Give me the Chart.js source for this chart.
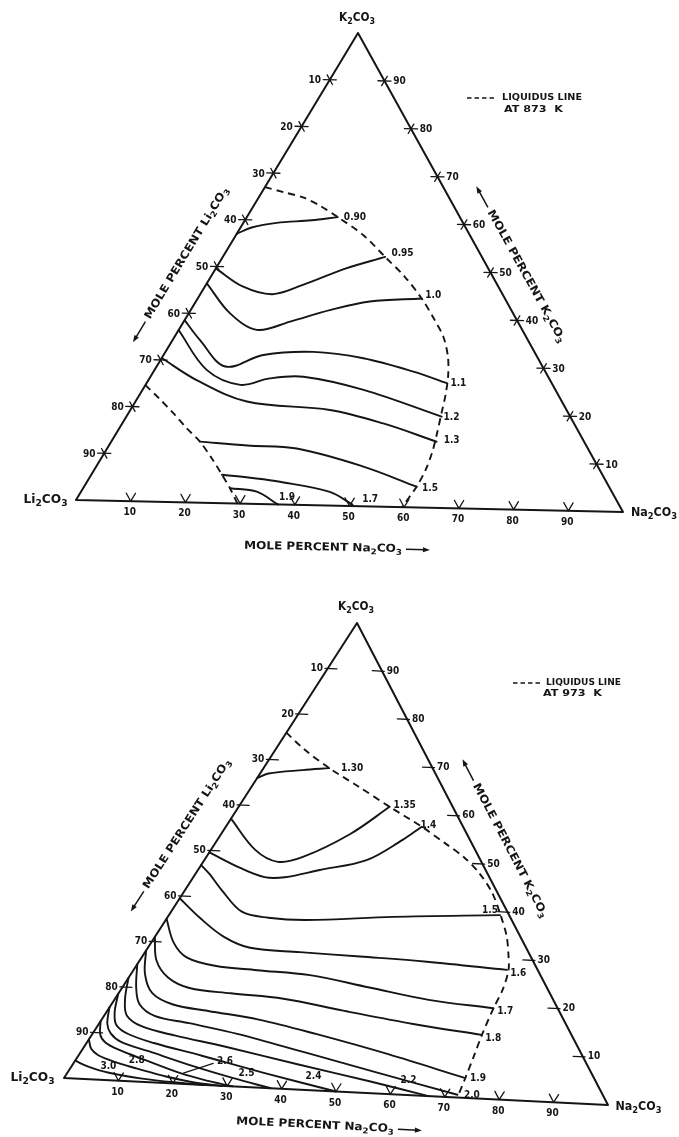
<!DOCTYPE html>
<html>
<head>
<meta charset="utf-8">
<title>Li2CO3-Na2CO3-K2CO3 ternary diagrams</title>
<script src="https://cdn.jsdelivr.net/npm/chart.js@4.4.1/dist/chart.umd.min.js"></script>
<style>
  html, body { margin: 0; padding: 0; background: #ffffff; }
  canvas { display: block; }
</style>
</head>
<body>
<canvas id="tern" width="679" height="1137"></canvas>
<script>
// ---------------------------------------------------------------------------
// Compositions are given as [mol % Na2CO3, mol % K2CO3]; Li2CO3 is the rest.
// ---------------------------------------------------------------------------
const TICK_STEPS = [10, 20, 30, 40, 50, 60, 70, 80, 90];

// ----- 873 K diagram -----
const liq873Main = [[0,67],[4,66],[8,65],[12,63.3],[16.4,61],[23,57.3],[29.3,52.8],[35,48.7],[40.4,44.2],[45,39.8],[48.5,36.2],[51.5,32],[53.6,28],[55.2,24],[56.5,20],[57.8,16],[59,12],[59.8,8],[60,4.4],[59.6,0]];
const liq873Low  = [[0,24.6],[4,21.8],[8.1,18.8],[12,15.8],[16,12.9],[20,9.4],[23.6,6],[26.5,3.2],[29.5,0]];

const values873 = ['0.90', '0.95', '1.0', '1.1', '1.2', '1.3', '1.5', '1.7', '1.9'];
const iso873_090 = [[0,57],[2,58.4],[6,59.5],[12,60.2],[16.4,61]];
const iso873_095 = [[0,49.6],[6.8,45.9],[13,44.4],[17.5,46.5],[23.5,50.2],[29.3,52.8]];
const iso873_100 = [[0,46.4],[7.4,40.2],[14.1,36.8],[19.2,38.7],[25.1,41.3],[31.4,43.3],[40.4,44.2]];
const iso873_110 = [[0,38.5],[4.9,34.4],[12.4,28.9],[18,31.5],[26.7,32.4],[36.4,31.3],[46.9,28.7],[54.2,26.4]];
const iso873_120 = [[0,36.4],[9.4,28.1],[17.1,25.1],[21.7,26.6],[27.6,27.1],[39.9,24.6],[56.9,19.3]];
const iso873_130 = [[0,30.4],[8.7,25.9],[20.1,21.6],[36,20.2],[47.1,17.6],[58.7,14]];
const iso873_150 = [[16,12.9],[25,12.3],[34.2,11.9],[48.2,8.4],[60,4.4]];
const iso873_170 = [[23.6,6],[29,5.5],[34.8,4.8],[44.9,2.9],[50.4,0.3]];
const iso873_190 = [[26.5,3.2],[31.7,2.6],[36.9,0]];
const labelAt873 = [[19.5,61.1],[32,53.7],[42.2,44.8],[56.3,26.4],[58.7,19.3],[61.3,14.3],[62.6,4.1],[53,1.5],[37.8,1.5]];

// ----- 973 K diagram -----
const liq973 = [[0,75.9],[5,72.6],[11.7,68.8],[19,65.2],[26.9,61.2],[34.9,57.3],[41,54],[46,51.2],[50.5,48],[55,44],[59,39.4],[62.5,35],[65,31],[66.8,27.7],[68,23.5],[68.5,19.4],[69.5,13.6],[70.5,9],[71.5,4.2],[72.3,0]];

const values973 = ['1.30', '1.35', '1.4', '1.5', '1.6', '1.7', '1.8', '1.9', '2.0', '2.2', '2.4', '2.5', '2.6', '2.8', '3.0'];
const iso973_130 = [[0,65.9],[1.5,67],[7.2,68.1],[11.7,68.8]];
const iso973_135 = [[0,57],[7.9,50.6],[13.3,48.3],[17.2,49.6],[23,55],[26.9,61.2]];
const iso973_140 = [[0,49.6],[7.3,46.6],[12.7,44.9],[16.3,45.1],[21.7,47],[28.9,49.6],[33,54.3],[34.9,57.3]];
const iso973_150 = [[0,46.8],[2.5,45],[6.4,41.8],[12.6,37.3],[18,36.3],[25.1,36.2],[40.2,37.8],[59,39.3]];
const iso973_160 = [[0,39.5],[5.9,35.5],[12.2,31.8],[18.2,29.7],[27.6,29.3],[38.8,29],[51.3,28.6],[66.5,27.7]];
const iso973_170 = [[0,35],[4,30],[8,27],[14,25.5],[22,25],[32,24.5],[44,22.5],[56,20.5],[68.5,19.4]];
const iso973_180 = [[0,31],[3,26],[7,22.5],[12,20.5],[20,19.8],[30,19.2],[42,17.3],[56,15.2],[69.5,13.6]];
const iso973_190 = [[0,28],[2.5,23],[6,19],[11,16.8],[18,15.8],[28,14.5],[40,12],[55,8.5],[71.2,4.3]];
const iso973_200 = [[0,25],[2.5,20],[5,16.5],[9,14.2],[16,13],[26,11.2],[40,8],[55,4.5],[72,0.6]];
const iso973_220 = [[0,22],[1.8,17.5],[4,14],[8,11.8],[15,10.2],[25,8.4],[40,5.4],[55,2.5],[67,0]];
const iso973_240 = [[0,18.5],[1.5,14.5],[3.3,11.8],[6.5,10],[12,8.4],[22,6.2],[35,3.2],[50,0]];
const iso973_250 = [[0,15.5],[1.5,12],[3.2,10],[6,8.3],[12,6.6],[22,3.8],[30,1.8],[38,0]];
const iso973_260 = [[0,12.5],[1.5,9.6],[3.3,8],[6.5,6.6],[12,4.8],[20,2.3],[26,0.9],[31,0]];
const iso973_280 = [[0,8.5],[1.5,6.5],[3.5,5.2],[5.8,4.4],[8.5,3.6],[11.8,2.8],[18,1.4],[24,0.4],[29,0]];
const iso973_300 = [[0,3.8],[3,2.7],[7.4,1.6],[14,0.7],[21,0.2],[26,0]];
const labelAt973 = [[15.8,69],[29.4,61.7],[35.9,57.7],[56.6,40.3],[68.9,27.1],[71,18.8],[71.9,13],[73.8,4.3],[74.6,0.7],[61.6,3.2],[44.3,2.9],[32,2.9],[26.8,5.2],[10.9,4.6],[6.6,2.9]];
const leader973_26 = [[24.9,4.7],[20.7,2.3]];

const iso873 = [iso873_090, iso873_095, iso873_100, iso873_110, iso873_120, iso873_130, iso873_150, iso873_170, iso873_190];
const iso973 = [iso973_130, iso973_135, iso973_140, iso973_150, iso973_160, iso973_170, iso973_180, iso973_190, iso973_200,
                iso973_220, iso973_240, iso973_250, iso973_260, iso973_280, iso973_300];

// ---------------------------------------------------------------------------
// Page layout
// ---------------------------------------------------------------------------
const W = 679, H = 1137;
const INK = '#151515';
const FONT = '"Liberation Sans Narrow","DejaVu Sans Condensed","Liberation Sans","DejaVu Sans",sans-serif';

const PANELS = [
  {
    corner: { Li: [76, 500], Na: [623, 512], K: [358, 33] },
    tickStyle: 'cross',
    liquidus: [liq873Main, liq873Low],
    iso: iso873, values: values873, labelAt: labelAt873, leaders: [],
    legend: { x: 467, y: 98, dashEnd: 497, textW: 80, sub: 'AT 873  K', subX: 504, subW: 59, subDy: 12 },
    vertexOffset: { K: [-1, -15], Li: [-30.5, 0], Na: [31, 1] },
    titles: { base: [52.3, -8.9], left: [-6.9, 50.1], right: [54.3, 51.9] }
  },
  {
    corner: { Li: [64, 1078], Na: [608, 1105], K: [357, 623] },
    tickStyle: 'dash',
    liquidus: [liq973],
    iso: iso973, values: values973, labelAt: labelAt973, leaders: [leader973_26],
    legend: { x: 513, y: 683, dashEnd: 541, textW: 75, sub: 'AT 973  K', subX: 543, subW: 59, subDy: 10.5 },
    vertexOffset: { K: [-1, -16], Li: [-31.5, 0], Na: [30.5, 2] },
    titles: { base: [52.7, -7.4], left: [-7.2, 52.8], right: [50.8, 55.7] }
  }
];

// composition -> page coordinates (affine map onto the drawn triangle)
function toXY(c, comp) {
  const b = comp[0] / 100, k = comp[1] / 100;
  return {
    x: c.Li[0] + b * (c.Na[0] - c.Li[0]) + k * (c.K[0] - c.Li[0]),
    y: c.Li[1] + b * (c.Na[1] - c.Li[1]) + k * (c.K[1] - c.Li[1])
  };
}

function lineSet(points, extra) {
  return Object.assign({
    data: points, showLine: true, pointRadius: 0, pointHoverRadius: 0,
    borderColor: INK, backgroundColor: INK, borderWidth: 1.9,
    tension: 0, fill: false, borderCapStyle: 'round', borderJoinStyle: 'round'
  }, extra || {});
}

const datasets = [];
PANELS.forEach(p => {
  const c = p.corner;
  const map = arr => arr.map(q => toXY(c, q));
  // triangle frame
  datasets.push(lineSet(map([[0, 0], [100, 0], [0, 100], [0, 0]]), { borderWidth: 2 }));
  // graduation marks
  TICK_STEPS.forEach(s => {
    const d = 1.7;
    // base (Na2CO3 %): small V opening upward
    datasets.push(lineSet(map([[s - d, d], [s, 0], [s, d]]), { borderWidth: 1.3 }));
    if (p.tickStyle === 'cross') {
      const h = 1.2, g = 1.0;
      datasets.push(lineSet(map([[-h, 100 - s], [h, 100 - s]]), { borderWidth: 1.3 }));
      datasets.push(lineSet(map([[-g, 100 - s + g], [g, 100 - s - g]]), { borderWidth: 1.3 }));
      datasets.push(lineSet(map([[100 - s - h, s], [100 - s + h, s]]), { borderWidth: 1.3 }));
      datasets.push(lineSet(map([[100 - s, s - g], [100 - s, s + g]]), { borderWidth: 1.3 }));
    } else {
      datasets.push(lineSet(map([[-0.5, 100 - s], [1.7, 100 - s]]), { borderWidth: 1.3 }));
      datasets.push(lineSet(map([[100 - s - 1.8, s], [100 - s + 0.4, s]]), { borderWidth: 1.3 }));
    }
  });
  // liquidus boundary
  p.liquidus.forEach(l => datasets.push(lineSet(map(l), { borderDash: [7, 5], borderWidth: 1.9, tension: 0.3, borderCapStyle: 'butt' })));
  // isolines
  p.iso.forEach(l => datasets.push(lineSet(map(l), { tension: 0.35 })));
  p.leaders.forEach(l => datasets.push(lineSet(map(l), { borderWidth: 1.2 })));
});

// ---------------------------------------------------------------------------
// Text helpers (chemical formulas get subscript digits)
// ---------------------------------------------------------------------------
function runs(text) {
  const out = [];
  for (let i = 0; i < text.length; i++) {
    const ch = text[i];
    const prev = i > 0 ? text[i - 1] : ' ';
    const sub = /[0-9]/.test(ch) && /[A-Za-z]/.test(prev);
    const last = out[out.length - 1];
    if (last && last.sub === sub) last.t += ch; else out.push({ t: ch, sub });
  }
  return out;
}
function fontFor(size, sub) {
  return 'bold ' + (sub ? Math.round(size * 0.72) : size) + 'px ' + FONT;
}
function measure(ctx, text, size) {
  let w = 0;
  runs(text).forEach(r => { ctx.font = fontFor(size, r.sub); w += ctx.measureText(r.t).width; });
  return w;
}
// draws text at the current origin; align: 'left' | 'center' | 'right'
function drawText(ctx, text, x, y, size, opt) {
  opt = opt || {};
  const natural = measure(ctx, text, size);
  const sx = opt.width ? opt.width / natural : 1;
  ctx.save();
  ctx.translate(x, y);
  if (opt.rot) ctx.rotate(opt.rot);
  ctx.scale(sx, 1);
  let cx = opt.align === 'left' ? 0 : opt.align === 'right' ? -natural : -natural / 2;
  ctx.fillStyle = INK;
  ctx.textBaseline = 'middle';
  ctx.textAlign = 'left';
  runs(text).forEach(r => {
    ctx.font = fontFor(size, r.sub);
    ctx.fillText(r.t, cx, r.sub ? size * 0.32 : 0);
    cx += ctx.measureText(r.t).width;
  });
  ctx.restore();
}
function arrow(ctx, x0, y0, x1, y1) {
  const a = Math.atan2(y1 - y0, x1 - x0), L = 7, Wd = 2.6;
  ctx.beginPath();
  ctx.moveTo(x0, y0);
  ctx.lineTo(x1 - L * 0.6 * Math.cos(a), y1 - L * 0.6 * Math.sin(a));
  ctx.lineWidth = 1.5; ctx.strokeStyle = INK; ctx.stroke();
  ctx.beginPath();
  ctx.moveTo(x1, y1);
  ctx.lineTo(x1 - L * Math.cos(a) + Wd * Math.sin(a), y1 - L * Math.sin(a) - Wd * Math.cos(a));
  ctx.lineTo(x1 - L * Math.cos(a) - Wd * Math.sin(a), y1 - L * Math.sin(a) + Wd * Math.cos(a));
  ctx.closePath(); ctx.fillStyle = INK; ctx.fill();
}
// axis title with its arrow, laid along a triangle side
function title(ctx, cx, cy, rot, text, textW, arrowFirst) {
  const La = 24, gap = 4, total = textW + gap + La;
  ctx.save();
  ctx.translate(cx, cy);
  ctx.rotate(rot);
  let x = -total / 2;
  if (arrowFirst) {
    arrow(ctx, x + La, 0, x, 0);
    x += La + gap;
    drawText(ctx, text, x, 0, 11, { align: 'left', width: textW });
  } else {
    drawText(ctx, text, x, 0, 11, { align: 'left', width: textW });
    x += textW + gap;
    arrow(ctx, x, 0, x + La, 0);
  }
  ctx.restore();
}

const textPlugin = {
  id: 'ternaryText',
  afterDatasetsDraw(chart) {
    const ctx = chart.ctx;
    const xs = chart.scales.x, ys = chart.scales.y;
    const px = (c, comp) => { const q = toXY(c, comp); return [xs.getPixelForValue(q.x), ys.getPixelForValue(q.y)]; };
    const vx = v => [xs.getPixelForValue(v[0]), ys.getPixelForValue(v[1])];

    PANELS.forEach(p => {
      const c = p.corner;
      const cross = p.tickStyle === 'cross';
      // graduation numbers
      TICK_STEPS.forEach(s => {
        let [x, y] = px(c, [0, 100 - s]);
        drawText(ctx, String(s), x + (cross ? -15 : -11), y + (cross ? 1 : 0), 10, {});
        [x, y] = px(c, [100 - s, s]);
        drawText(ctx, String(s), x + (cross ? 15 : 11), y + (cross ? 1 : 0), 10, {});
        [x, y] = px(c, [s, 0]);
        drawText(ctx, String(s), x - 1, y + 11.5, 10, {});
      });
      // isoline values
      p.values.forEach((v, i) => {
        const [x, y] = px(c, p.labelAt[i]);
        drawText(ctx, v, x, y, 10, {});
      });
      // corner compounds
      const o = p.vertexOffset;
      let [x, y] = vx(c.K);
      drawText(ctx, 'K2CO3', x + o.K[0], y + o.K[1], 12, { width: 36 });
      [x, y] = vx(c.Li);
      drawText(ctx, 'Li2CO3', x + o.Li[0], y + o.Li[1], 12, { width: 44 });
      [x, y] = vx(c.Na);
      drawText(ctx, 'Na2CO3', x + o.Na[0], y + o.Na[1], 12, { width: 46 });
      // axis titles
      const aBase = Math.atan2(c.Na[1] - c.Li[1], c.Na[0] - c.Li[0]);
      const aLeft = Math.atan2(c.K[1] - c.Li[1], c.K[0] - c.Li[0]);
      const aRight = Math.atan2(c.Na[1] - c.K[1], c.Na[0] - c.K[0]);
      [x, y] = px(c, p.titles.base);
      title(ctx, x, y, aBase, 'MOLE PERCENT Na2CO3', 158, false);
      [x, y] = px(c, p.titles.left);
      title(ctx, x, y, aLeft, 'MOLE PERCENT Li2CO3', 152, true);
      [x, y] = px(c, p.titles.right);
      title(ctx, x, y, aRight, 'MOLE PERCENT K2CO3', 150, true);
      // liquidus key
      const lg = p.legend;
      ctx.save();
      ctx.beginPath();
      ctx.setLineDash([4.5, 3]);
      ctx.moveTo(lg.x, lg.y); ctx.lineTo(lg.dashEnd, lg.y);
      ctx.lineWidth = 1.4; ctx.strokeStyle = INK; ctx.stroke();
      ctx.restore();
      drawText(ctx, 'LIQUIDUS LINE', lg.dashEnd + 5, lg.y, 9, { align: 'left', width: lg.textW });
      drawText(ctx, lg.sub, lg.subX, lg.y + lg.subDy, 9, { align: 'left', width: lg.subW });
    });
  }
};

const paper = {
  id: 'paper',
  beforeDraw(chart) {
    const ctx = chart.ctx;
    ctx.save();
    ctx.fillStyle = '#ffffff';
    ctx.fillRect(0, 0, chart.width, chart.height);
    ctx.restore();
  }
};

new Chart(document.getElementById('tern'), {
  type: 'scatter',
  data: { datasets },
  options: {
    responsive: false,
    animation: false,
    devicePixelRatio: 1,
    layout: { padding: 0 },
    scales: {
      x: { type: 'linear', min: 0, max: W, display: false },
      y: { type: 'linear', min: 0, max: H, reverse: true, display: false }
    },
    plugins: { legend: { display: false }, tooltip: { enabled: false } },
    elements: { point: { radius: 0 } }
  },
  plugins: [paper, textPlugin]
});
</script>
</body>
</html>
